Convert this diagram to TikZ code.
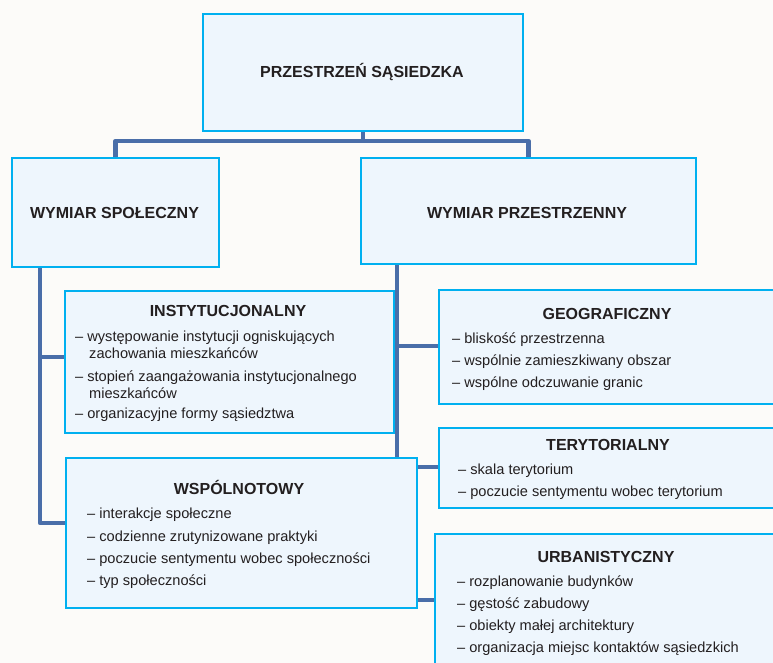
\documentclass[tikz,border=0pt]{standalone}
\usepackage{fontspec}
\setmainfont{Liberation Sans}
\definecolor{bord}{HTML}{00B0F0}
\definecolor{boxf}{HTML}{EEF6FD}
\definecolor{connc}{HTML}{4A6EA9}
\definecolor{txt}{HTML}{231F20}
\definecolor{bgc}{HTML}{FCFBF9}
\pgfdeclarelayer{back}
\pgfdeclarelayer{paper}
\pgfsetlayers{paper,back,main}
\begin{document}
\begin{tikzpicture}[x=1pt,y=-1pt,
 box/.style={draw=bord, line width=2pt, fill=boxf, anchor=north west, inner sep=0pt},
 conn/.style={draw=connc, line width=4.5pt, line join=round},
 head/.style={font=\fontsize{16}{19}\selectfont\bfseries, text=txt, inner sep=0pt, anchor=base},
 item/.style={font=\fontsize{14.6}{17}\selectfont, text=txt, inner sep=0pt, anchor=base west}]

\begin{pgfonlayer}{paper}
\fill[bgc] (0,0) rectangle (773,663);
\end{pgfonlayer}
\useasboundingbox (0,0) rectangle (773,663);

% boxes
\node[box, minimum width=320pt, minimum height=117pt] (top) at (202,13) {};
\node[box, minimum width=207pt, minimum height=109pt] (ws) at (11,157) {};
\node[box, minimum width=335pt, minimum height=106pt] (wp) at (360,157) {};
\node[box, minimum width=329pt, minimum height=142pt] (inst) at (64,290) {};
\node[box, minimum width=351pt, minimum height=150pt] (wsp) at (65,457) {};
\node[box, minimum width=340pt, minimum height=114pt] (geo) at (438,289) {};
\node[box, minimum width=340pt, minimum height=80pt] (ter) at (438,427) {};
\node[box, minimum width=343pt, minimum height=135pt] (urb) at (434,533) {};

% helper coordinates
\coordinate (bus) at (0,141);
\coordinate (L) at (40,0);
\coordinate (R) at (397,0);
\coordinate (yA) at (0,357);
\coordinate (yB) at (0,523);
\coordinate (yG) at (0,346);
\coordinate (yT) at (0,467);
\coordinate (yU) at (0,600);

% connectors
\begin{pgfonlayer}{back}
\draw[conn] (ws.north) |- (bus -| top.south) -| (wp.north);
\draw[conn] (top.south) -- (bus -| top.south);
\draw[conn] (ws.south -| L) |- (wsp.west |- yB);
\draw[conn] (L |- yA) -- (inst.west |- yA);
\draw[conn] (wp.south -| R) -- (wsp.north -| R);
\draw[conn] (R |- yG) -- (geo.west |- yG);
\draw[conn] (wsp.east |- yT) -- (ter.west |- yT);
\draw[conn] (wsp.east |- yU) -- (urb.west |- yU);
\end{pgfonlayer}

% headings
\node[head] (t1) at (362,78) {PRZESTRZEŃ SĄSIEDZKA};
\node[head] (t2) at (114.5,218) {WYMIAR SPOŁECZNY};
\node[head] (t3) at (527,218) {WYMIAR PRZESTRZENNY};
\node[head] (h1) at (228,316) {INSTYTUCJONALNY};
\node[head] (h2) at (239,494) {WSPÓLNOTOWY};
\node[head] (h3) at (607,319) {GEOGRAFICZNY};
\node[head] (h4) at (608,450) {TERYTORIALNY};
\node[head] (h5) at (606,562) {URBANISTYCZNY};

% items
\foreach \xx/\yy/\t [count=\k] in {75/341/– występowanie instytucji ogniskujących,
  89/358/zachowania mieszkańców,
  75/381/– stopień zaangażowania instytucjonalnego,
  89/398/mieszkańców,
  75/418/– organizacyjne formy sąsiedztwa}
  \node[item] (ia-\k) at (\xx,\yy) {\t};
\foreach \yy/\t [count=\k] in {518/– interakcje społeczne,
  541/– codzienne zrutynizowane praktyki,
  563/– poczucie sentymentu wobec społeczności,
  585/– typ społeczności}
  \node[item] (ib-\k) at (87,\yy) {\t};
\foreach \yy/\t [count=\k] in {343/– bliskość przestrzenna,
  365/– wspólnie zamieszkiwany obszar,
  387/– wspólne odczuwanie granic}
  \node[item] (ic-\k) at (452,\yy) {\t};
\foreach \yy/\t [count=\k] in {474/– skala terytorium,
  496/– poczucie sentymentu wobec terytorium}
  \node[item] (id-\k) at (458,\yy) {\t};
\foreach \yy/\t [count=\k] in {586/– rozplanowanie budynków,
  608/– gęstość zabudowy,
  630/– obiekty małej architektury,
  652/– organizacja miejsc kontaktów sąsiedzkich}
  \node[item] (ie-\k) at (457,\yy) {\t};
\end{tikzpicture}
\end{document}
